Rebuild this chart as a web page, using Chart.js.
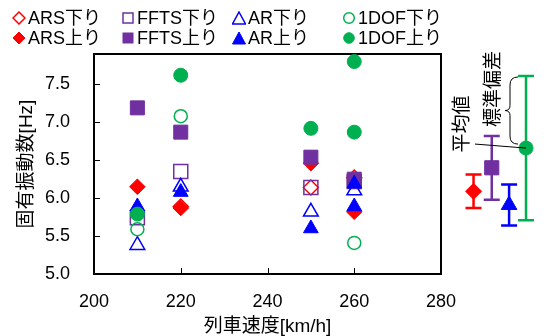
<!DOCTYPE html>
<html>
<head>
<meta charset="utf-8">
<script src="https://cdn.jsdelivr.net/npm/chart.js@4"></script>
<style>
  body { margin: 0; background: #fff; }
  #wrap { position: relative; width: 549px; height: 336px; overflow: hidden;
          font-family: "Liberation Sans", "Noto Sans CJK JP", sans-serif; }
  #chart { position: absolute; left: 0; top: 0; }
  .lg-mark { position: absolute; }
  .lg-text { position: absolute; font-size: 18px; line-height: 20px; white-space: nowrap; color: #000; }
</style>
</head>
<body>
<div id="wrap">
  <canvas id="chart" width="549" height="336"></canvas>
  <div id="legend"></div>
</div>
<script>
// 測定データ（列車速度 km/h -> 固有振動数 Hz）
const arsDownX = [220, 250, 260];
const arsDownY = [5.89, 6.14, 6.27];
const arsUpX = [210, 220, 250, 260];
const arsUpY = [6.15, 5.87, 6.46, 5.82];
const fftsDownX = [210, 220, 250, 260];
const fftsDownY = [5.74, 6.35, 6.14, 6.22];
const fftsUpX = [210, 220, 250, 260];
const fftsUpY = [7.19, 6.87, 6.54, 6.25];
const arDownX = [210, 220, 250, 260];
const arDownY = [5.38, 6.15, 5.82, 6.10];
const arUpX = [210, 220, 250, 260, 260];
const arUpY = [5.89, 6.08, 5.60, 6.19, 5.89];
const dofDownX = [210, 220, 260];
const dofDownY = [5.59, 7.08, 5.41];
const dofUpX = [210, 220, 250, 260, 260];
const dofUpY = [5.79, 7.62, 6.92, 7.80, 6.87];

// 平均値と標準偏差（グラフ右外側に表示）
const statX = [287.5, 291.7, 295.7, 299.6];
const statMean = [6.09, 6.40, 5.91, 6.66];
const statSd = [0.22, 0.42, 0.27, 0.95];

const xTicks = [200, 220, 240, 260, 280];
const yTicks = [5.0, 5.5, 6.0, 6.5, 7.0, 7.5];

const RED = '#ff0000';
const PURPLE = '#7030a0';
const BLUE = '#0000ff';
const GREEN = '#00b050';
const FONT = '"Liberation Sans", "Noto Sans CJK JP", sans-serif';

const toPoints = (xs, ys) => xs.map((x, i) => ({ x: x, y: ys[i] }));

// 凡例の並び（Excelと同じ順番で描画）
const series = [
  { label: 'ARS下り', xs: arsDownX, ys: arsDownY, color: RED, style: 'rectRot', r: 7.5, open: true },
  { label: 'FFTS下り', xs: fftsDownX, ys: fftsDownY, color: PURPLE, style: 'rect', r: 9.9, open: true },
  { label: 'AR下り', xs: arDownX, ys: arDownY, color: BLUE, style: 'triangle', r: 8.5, open: true },
  { label: '1DOF下り', xs: dofDownX, ys: dofDownY, color: GREEN, style: 'circle', r: 6.5, open: true },
  { label: 'ARS上り', xs: arsUpX, ys: arsUpY, color: RED, style: 'rectRot', r: 7.8, open: false },
  { label: 'FFTS上り', xs: fftsUpX, ys: fftsUpY, color: PURPLE, style: 'rect', r: 9.9, open: false },
  { label: 'AR上り', xs: arUpX, ys: arUpY, color: BLUE, style: 'triangle', r: 8.5, open: false },
  { label: '1DOF上り', xs: dofUpX, ys: dofUpY, color: GREEN, style: 'circle', r: 7, open: false }
];

const datasets = series.map((s, i) => ({
  label: s.label,
  data: toPoints(s.xs, s.ys),
  pointStyle: s.style,
  pointRadius: s.r,
  pointBorderWidth: s.open ? 1.5 : 1,
  borderColor: s.color,
  backgroundColor: s.open ? 'rgba(0,0,0,0)' : s.color,
  order: 20 - i // 後の系列を上に描く
}));

const statColors = [RED, PURPLE, BLUE, GREEN];
const statStyles = ['rectRot', 'rect', 'triangle', 'circle'];
const statRadius = [8, 10, 9, 7];

// 枠線と内向きの目盛り
const framePlugin = {
  id: 'frame',
  beforeDatasetsDraw(chart) {
    const { ctx, chartArea: a, scales } = chart;
    ctx.save();
    ctx.strokeStyle = '#000';
    ctx.lineWidth = 1;
    xTicks.slice(1, -1).forEach(v => {
      const px = Math.round(scales.x.getPixelForValue(v)) + 0.5;
      ctx.beginPath(); ctx.moveTo(px, a.bottom); ctx.lineTo(px, a.bottom - 6); ctx.stroke();
    });
    yTicks.slice(1).forEach(v => {
      const py = Math.round(scales.y.getPixelForValue(v)) + 0.5;
      ctx.beginPath(); ctx.moveTo(a.left, py); ctx.lineTo(a.left + 6, py); ctx.stroke();
    });
    ctx.lineWidth = 2;
    ctx.strokeRect(a.left, a.top, a.right - a.left, a.bottom - a.top);
    ctx.restore();
  }
};

// 誤差棒（平均値±標準偏差）とその記号
const errorBarPlugin = {
  id: 'errorBars',
  afterDatasetsDraw(chart) {
    const { ctx, scales } = chart;
    ctx.save();
    statX.forEach((x, i) => {
      const px = scales.x.getPixelForValue(x);
      const py = scales.y.getPixelForValue(statMean[i]);
      const top = scales.y.getPixelForValue(statMean[i] + statSd[i]);
      const bot = scales.y.getPixelForValue(statMean[i] - statSd[i]);
      ctx.lineWidth = 2.5;
      ctx.strokeStyle = statColors[i];
      ctx.beginPath();
      ctx.moveTo(px, top); ctx.lineTo(px, bot);
      ctx.moveTo(px - 8, top); ctx.lineTo(px + 8, top);
      ctx.moveTo(px - 8, bot); ctx.lineTo(px + 8, bot);
      ctx.stroke();
      ctx.fillStyle = statColors[i];
      ctx.lineWidth = 1;
      Chart.helpers.drawPoint(ctx, { pointStyle: statStyles[i], radius: statRadius[i], borderWidth: 1, rotation: 0 }, px, py);
    });
    ctx.restore();
  }
};

// 「平均値」「標準偏差」の説明
const notePlugin = {
  id: 'notes',
  afterDraw(chart) {
    const { ctx, scales } = chart;
    const gx = scales.x.getPixelForValue(statX[3]);
    const gy = scales.y.getPixelForValue(statMean[3]);
    const gTop = scales.y.getPixelForValue(statMean[3] + statSd[3]);
    ctx.save();
    ctx.fillStyle = '#000';
    ctx.strokeStyle = '#000';
    ctx.lineWidth = 1;
    ctx.font = '19px ' + FONT;
    ctx.textAlign = 'center';
    ctx.textBaseline = 'middle';
    const vText = (t, cx, cy) => {
      ctx.save(); ctx.translate(cx, cy); ctx.rotate(-Math.PI / 2); ctx.fillText(t, 0, 0); ctx.restore();
    };
    vText('平均値', gx - 63, 124);
    vText('標準偏差', gx - 32, 89);
    // 平均値への線
    ctx.beginPath(); ctx.moveTo(gx - 51, gy - 4); ctx.lineTo(gx, gy); ctx.stroke();
    // 中括弧
    const yT = gTop + 1, yB = gy - 4, ym = (yT + yB) / 2;
    const x0 = gx - 8, x1 = gx - 16, x2 = gx - 21;
    ctx.beginPath();
    ctx.moveTo(x0, yT);
    ctx.quadraticCurveTo(x1, yT, x1, yT + 8);
    ctx.lineTo(x1, ym - 5);
    ctx.quadraticCurveTo(x1, ym, x2, ym);
    ctx.quadraticCurveTo(x1, ym, x1, ym + 5);
    ctx.lineTo(x1, yB - 8);
    ctx.quadraticCurveTo(x1, yB, x0, yB);
    ctx.stroke();
    ctx.restore();
  }
};

new Chart(document.getElementById('chart'), {
  type: 'scatter',
  data: { datasets: datasets },
  options: {
    responsive: false,
    animation: false,
    devicePixelRatio: 1,
    events: [],
    layout: { padding: { top: 54, right: 108, left: 0, bottom: 0 } },
    plugins: { legend: { display: false }, tooltip: { enabled: false } },
    scales: {
      x: {
        type: 'linear', min: 200, max: 280,
        afterBuildTicks: s => { s.ticks = xTicks.map(v => ({ value: v })); },
        afterFit: s => { s.height = 62; },
        grid: { display: false, drawTicks: false },
        border: { display: false },
        ticks: { padding: 17, color: '#000', font: { family: FONT, size: 18 } },
        title: { display: true, text: '列車速度[km/h]', color: '#000',
                 font: { family: FONT, size: 19, lineHeight: 1 }, padding: 0 }
      },
      y: {
        type: 'linear', min: 5, max: 7.9,
        afterBuildTicks: s => { s.ticks = yTicks.map(v => ({ value: v })); },
        afterFit: s => { s.width = 94; },
        grid: { display: false, drawTicks: false },
        border: { display: false },
        ticks: { padding: 24, color: '#000', font: { family: FONT, size: 18 },
                 callback: v => v.toFixed(1) },
        title: { display: true, text: '固有振動数[Hz]', color: '#000',
                 font: { family: FONT, size: 19, lineHeight: 1.2 }, padding: { top: 15, bottom: 0 } }
      }
    }
  },
  plugins: [framePlugin, errorBarPlugin, notePlugin]
});

// 凡例（2行4列）
const legendCols = [19, 128, 239, 349];
const legendRows = [18, 38];
const markerSvg = (s) => {
  const fill = s.open ? 'none' : s.color;
  const sw = s.open ? 1.5 : 1;
  let shape = '';
  if (s.style === 'rectRot') shape = `<polygon points="7,1 13,7 7,13 1,7" fill="${fill}" stroke="${s.color}" stroke-width="${sw}"/>`;
  if (s.style === 'rect') shape = `<rect x="2" y="2" width="10" height="10" fill="${fill}" stroke="${s.color}" stroke-width="${sw}"/>`;
  if (s.style === 'triangle') shape = `<polygon points="7,1 13.5,13 0.5,13" fill="${fill}" stroke="${s.color}" stroke-width="${sw}"/>`;
  if (s.style === 'circle') shape = `<circle cx="7" cy="7" r="5.3" fill="${fill}" stroke="${s.color}" stroke-width="${sw}"/>`;
  return `<svg width="14" height="14" viewBox="0 0 14 14">${shape}</svg>`;
};
const legendEl = document.getElementById('legend');
series.forEach((s, i) => {
  const col = i % 4, row = Math.floor(i / 4);
  const cx = legendCols[col], cy = legendRows[row];
  const m = document.createElement('div');
  m.className = 'lg-mark';
  m.style.left = (cx - 7) + 'px';
  m.style.top = (cy - 7) + 'px';
  m.innerHTML = markerSvg(s);
  legendEl.appendChild(m);
  const t = document.createElement('div');
  t.className = 'lg-text';
  t.style.left = (cx + 9) + 'px';
  t.style.top = (cy - 10) + 'px';
  t.textContent = s.label;
  legendEl.appendChild(t);
});
</script>
</body>
</html>
